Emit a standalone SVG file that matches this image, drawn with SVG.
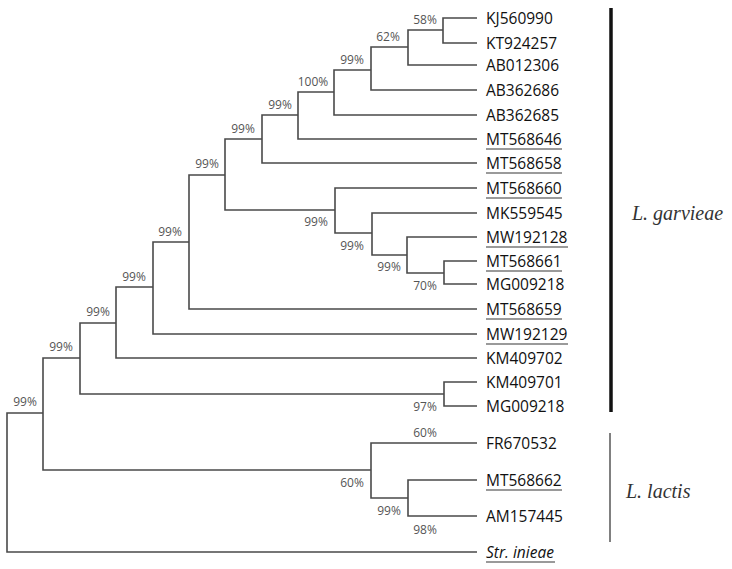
<svg xmlns="http://www.w3.org/2000/svg" width="732" height="569" viewBox="0 0 732 569">
<style>
.br{fill:none;stroke:#4a4a4a;stroke-width:1.6}
.lf{font-family:"Open Sans","Liberation Sans",sans-serif;font-size:15.5px;fill:#111}
.bs{font-family:"Open Sans","Liberation Sans",sans-serif;font-size:12px;fill:#555;text-anchor:middle}
.ul{stroke:#9a9a9a;stroke-width:1.8}
.sp{font-family:"Liberation Serif","Times New Roman",serif;font-style:italic;font-size:20px;fill:#333}
</style>
<rect width="732" height="569" fill="#fff"/>
<g id="connectors">
<path class="br" d="M477,18 H443 V43 H477"/>
<path class="br" d="M443,30 H408 V65 H477"/>
<path class="br" d="M408,47 H371 V90 H477"/>
<path class="br" d="M371,70 H334 V115 H477"/>
<path class="br" d="M334,92 H298 V139 H477"/>
<path class="br" d="M298,115 H262 V163 H477"/>
<path class="br" d="M262,139 H225 V210 H335"/>
<path class="br" d="M477,188 H335 V233 H372"/>
<path class="br" d="M477,213 H372 V255 H407"/>
<path class="br" d="M477,237 H407 V273 H444"/>
<path class="br" d="M477,261 H444 V284 H477"/>
<path class="br" d="M225,175 H189 V309 H477"/>
<path class="br" d="M189,242 H153 V334 H477"/>
<path class="br" d="M153,287 H116 V358 H477"/>
<path class="br" d="M116,323 H80 V394 H444"/>
<path class="br" d="M477,382 H444 V406 H477"/>
<path class="br" d="M80,358 H43 V470 H371"/>
<path class="br" d="M477,443 H371 V498 H408"/>
<path class="br" d="M477,480 H408 V516 H477"/>
<path class="br" d="M43,413 H7 V552 H477"/>
</g>
<g id="leaf-KJ560990"><text class="lf" x="486" y="24">KJ560990</text></g>
<g id="leaf-KT924257"><text class="lf" x="486" y="49">KT924257</text></g>
<g id="leaf-AB012306"><text class="lf" x="486" y="71">AB012306</text></g>
<g id="leaf-AB362686"><text class="lf" x="486" y="96">AB362686</text></g>
<g id="leaf-AB362685"><text class="lf" x="486" y="121">AB362685</text></g>
<g id="leaf-MT568646"><text class="lf" x="486" y="145">MT568646</text><line class="ul" x1="486" y1="149" x2="562" y2="149"/></g>
<g id="leaf-MT568658"><text class="lf" x="486" y="169">MT568658</text><line class="ul" x1="486" y1="173" x2="562" y2="173"/></g>
<g id="leaf-MT568660"><text class="lf" x="486" y="194">MT568660</text><line class="ul" x1="486" y1="198" x2="562" y2="198"/></g>
<g id="leaf-MK559545"><text class="lf" x="486" y="219">MK559545</text></g>
<g id="leaf-MW192128"><text class="lf" x="486" y="243">MW192128</text><line class="ul" x1="486" y1="247" x2="568" y2="247"/></g>
<g id="leaf-MT568661"><text class="lf" x="486" y="267">MT568661</text><line class="ul" x1="486" y1="271" x2="562" y2="271"/></g>
<g id="leaf-MG009218a"><text class="lf" x="486" y="290">MG009218</text></g>
<g id="leaf-MT568659"><text class="lf" x="486" y="315">MT568659</text><line class="ul" x1="486" y1="319" x2="562" y2="319"/></g>
<g id="leaf-MW192129"><text class="lf" x="486" y="340">MW192129</text><line class="ul" x1="486" y1="344" x2="568" y2="344"/></g>
<g id="leaf-KM409702"><text class="lf" x="486" y="364">KM409702</text></g>
<g id="leaf-KM409701"><text class="lf" x="486" y="388">KM409701</text></g>
<g id="leaf-MG009218b"><text class="lf" x="486" y="412">MG009218</text></g>
<g id="leaf-FR670532"><text class="lf" x="486" y="449">FR670532</text></g>
<g id="leaf-MT568662"><text class="lf" x="486" y="486">MT568662</text><line class="ul" x1="486" y1="490" x2="562" y2="490"/></g>
<g id="leaf-AM157445"><text class="lf" x="486" y="522">AM157445</text></g>
<g id="leaf-Str-inieae"><text class="lf" x="486" y="558" font-style="italic">Str. inieae</text><line class="ul" x1="486" y1="562" x2="555" y2="562"/></g>
<g id="n58"><text class="bs" x="425" y="24">58%</text></g>
<g id="n62"><text class="bs" x="388" y="41">62%</text></g>
<g id="n99a"><text class="bs" x="352" y="64">99%</text></g>
<g id="n100"><text class="bs" x="313" y="86">100%</text></g>
<g id="n99b"><text class="bs" x="280" y="109">99%</text></g>
<g id="n99c"><text class="bs" x="243" y="133">99%</text></g>
<g id="n99g"><text class="bs" x="207" y="168">99%</text></g>
<g id="n99h"><text class="bs" x="170" y="236">99%</text></g>
<g id="n99i"><text class="bs" x="134" y="281">99%</text></g>
<g id="n99j"><text class="bs" x="98" y="316">99%</text></g>
<g id="n99k"><text class="bs" x="61" y="351">99%</text></g>
<g id="n99l"><text class="bs" x="25" y="406">99%</text></g>
<g id="n99d"><text class="bs" x="316" y="226">99%</text></g>
<g id="n99e"><text class="bs" x="352" y="250">99%</text></g>
<g id="n99f"><text class="bs" x="389" y="271">99%</text></g>
<g id="n70"><text class="bs" x="425" y="290">70%</text></g>
<g id="n97"><text class="bs" x="425" y="411">97%</text></g>
<g id="n60a"><text class="bs" x="425" y="437">60%</text></g>
<g id="n60b"><text class="bs" x="352" y="487">60%</text></g>
<g id="n99m"><text class="bs" x="389" y="515">99%</text></g>
<g id="n98"><text class="bs" x="425" y="534">98%</text></g>
<g id="clade-garvieae">
<line x1="611" y1="8" x2="611" y2="412" stroke="#111" stroke-width="3.5"/>
<text class="sp" x="632" y="220">L. garvieae</text>
</g>
<g id="clade-lactis">
<line x1="610" y1="433" x2="610" y2="542" stroke="#808080" stroke-width="2"/>
<text class="sp" x="626" y="498">L. lactis</text>
</g>
</svg>
